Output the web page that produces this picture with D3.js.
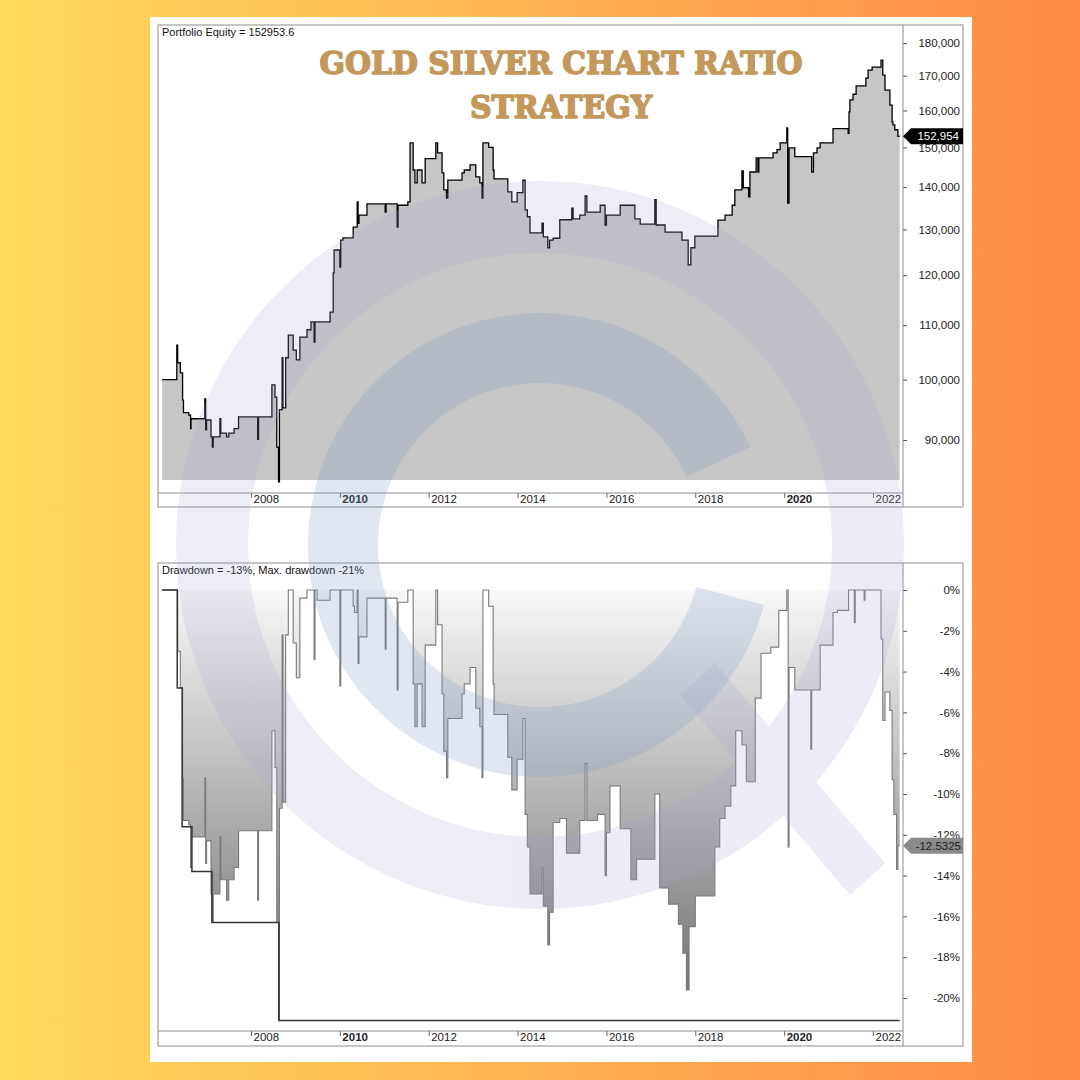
<!DOCTYPE html>
<html><head><meta charset="utf-8">
<script src="https://cdn.jsdelivr.net/npm/d3@7"></script>
<style>html,body{margin:0;padding:0;background:#fff;} svg{display:block;}</style>
</head><body>
<svg id="c" width="1080" height="1080"></svg>
<script>
// ---------------- DATA ----------------
const titleLines = ["GOLD SILVER CHART RATIO", "STRATEGY"];
const equityLabel = "Portfolio Equity = 152953.6";
const drawdownLabel = "Drawdown = -13%, Max. drawdown -21%";
const lastEquity = 152954;
const lastDrawdown = -12.5325;

const xTickYears = [2008, 2010, 2012, 2014, 2016, 2018, 2020, 2022];
const xBoldYears = [2010, 2020];
const equityTicks = [90000, 100000, 110000, 120000, 130000, 140000, 150000, 160000, 170000, 180000];
const drawdownTicks = [0, -2, -4, -6, -8, -10, -12, -14, -16, -18, -20];

const equityYears = [2006.00,2006.33,2006.35,2006.41,2006.46,2006.48,2006.60,2006.64,2006.65,2006.96,2006.98,2007.00,2007.10,2007.13,2007.15,2007.30,2007.32,2007.45,2007.50,2007.62,2007.72,2008.15,2008.17,2008.47,2008.54,2008.58,2008.62,2008.64,2008.70,2008.72,2008.78,2008.84,2008.95,2009.02,2009.10,2009.26,2009.35,2009.42,2009.44,2009.78,2009.85,2009.87,2010.00,2010.02,2010.07,2010.30,2010.39,2010.41,2010.43,2010.61,2011.02,2011.04,2011.29,2011.31,2011.53,2011.58,2011.65,2011.69,2011.74,2011.85,2011.92,2012.16,2012.20,2012.30,2012.34,2012.40,2012.43,2012.75,2012.80,2012.93,2013.06,2013.15,2013.20,2013.22,2013.35,2013.45,2013.47,2013.78,2013.87,2013.99,2014.12,2014.17,2014.22,2014.28,2014.55,2014.58,2014.68,2014.72,2014.80,2014.95,2015.22,2015.25,2015.40,2015.52,2015.56,2015.86,2015.97,2016.00,2016.31,2016.64,2016.76,2017.09,2017.12,2017.32,2017.70,2017.84,2017.90,2017.99,2018.51,2018.67,2018.83,2018.89,2019.05,2019.08,2019.20,2019.23,2019.37,2019.41,2019.43,2019.75,2019.84,2019.91,2020.06,2020.08,2020.11,2020.24,2020.62,2020.66,2020.74,2020.81,2021.10,2021.44,2021.46,2021.48,2021.55,2021.62,2021.84,2021.89,2021.98,2022.18,2022.22,2022.27,2022.38,2022.43,2022.45,2022.49,2022.56,2022.60];
const equityValues = [100000,106200,103000,101200,96500,94400,94000,91800,93400,96700,91600,93200,90500,88900,90500,93400,91100,90500,91100,91800,93700,90100,93700,99100,97000,88900,83650,94900,103900,95200,103900,108100,105300,103500,107700,109100,110600,106800,110600,112500,120500,125400,121700,127600,128100,130500,136400,131400,133300,135900,134000,135900,130500,135600,136400,151200,144200,141000,144200,141000,147100,151200,148600,143500,139300,137300,141700,143500,144200,145500,142500,141000,137300,151200,150000,144200,142000,138800,136400,138600,141700,134500,132900,129200,131400,128300,125900,127600,128000,132200,134900,132400,133300,137800,134000,135600,131000,133300,135600,132400,131200,136900,131000,129400,127600,122200,125900,128500,132100,133300,135600,139300,144000,139800,137600,143700,147300,143700,147300,148600,149400,151200,155200,136100,149900,147600,143700,148600,149900,151200,155000,153700,159600,163000,164600,167000,169300,171700,172600,174700,170200,165800,161500,156800,156000,154700,152954,152954];

const drawdownYears = [2006.00,2006.33,2006.35,2006.41,2006.46,2006.48,2006.60,2006.64,2006.65,2006.96,2006.98,2007.00,2007.10,2007.13,2007.15,2007.30,2007.32,2007.45,2007.50,2007.62,2007.72,2008.15,2008.17,2008.47,2008.54,2008.58,2008.62,2008.64,2008.70,2008.72,2008.78,2008.84,2008.95,2009.02,2009.10,2009.26,2009.42,2009.44,2009.49,2009.78,2010.00,2010.02,2010.30,2010.33,2010.39,2010.41,2010.43,2010.61,2011.02,2011.04,2011.29,2011.31,2011.53,2011.65,2011.69,2011.74,2011.85,2011.92,2012.16,2012.20,2012.30,2012.34,2012.40,2012.43,2012.75,2012.80,2012.93,2013.06,2013.15,2013.20,2013.22,2013.35,2013.45,2013.47,2013.78,2013.87,2013.99,2014.12,2014.17,2014.22,2014.28,2014.55,2014.58,2014.68,2014.72,2014.80,2014.95,2015.10,2015.40,2015.52,2015.56,2015.80,2015.97,2016.00,2016.08,2016.31,2016.55,2016.68,2017.09,2017.20,2017.40,2017.62,2017.72,2017.80,2017.86,2018.00,2018.44,2018.55,2018.67,2018.80,2018.91,2019.05,2019.15,2019.35,2019.48,2019.70,2019.88,2020.06,2020.09,2020.11,2020.24,2020.60,2020.62,2020.81,2021.10,2021.20,2021.45,2021.58,2021.60,2021.80,2021.82,2022.18,2022.22,2022.27,2022.38,2022.43,2022.47,2022.53,2022.56,2022.60];
const drawdownValues = [0,0,-3.0,-4.8,-9.2,-11.3,-11.5,-13.6,-12.1,-9.2,-13.4,-12.3,-14.9,-16.3,-14.9,-12.1,-14.2,-15.2,-14.2,-13.6,-11.8,-15.2,-11.8,-6.9,-8.7,-16.3,-21.1,-10.7,-2.2,-10.4,-2.2,0,-2.6,-4.3,-0.4,0,-3.4,0,-0.5,0,-4.7,0,-0.8,-1.1,0,-3.6,-2.3,-0.4,-2.9,-0.4,-4.9,-0.6,0,-4.6,-6.7,-4.6,-6.7,-2.7,0,-1.7,-5.1,-7.9,-9.2,-6.3,-5.1,-4.6,-3.8,-5.8,-6.7,-9.2,0,-0.8,-4.6,-6.1,-8.2,-9.8,-8.3,-6.3,-11.0,-12.6,-14.9,-13.6,-15.5,-17.4,-15.8,-11.4,-11.2,-12.9,-11.3,-8.5,-11.3,-11.0,-14.0,-11.9,-9.6,-11.7,-14.2,-13.2,-10.0,-14.6,-15.4,-16.4,-17.8,-19.6,-16.5,-15.0,-12.6,-11.2,-10.6,-9.6,-6.9,-7.6,-9.4,-5.3,-3.1,-2.8,-1.0,0,-12.6,-3.8,-4.9,-7.8,-4.9,-2.7,-1.1,-1.0,0,-1.6,0,-0.5,0,-2.4,-6.4,-5.0,-5.9,-9.3,-11.0,-13.7,-12.53,-12.53];

const maxDrawdownYears = [2006.00, 2006.34, 2006.45, 2006.67, 2007.12, 2008.63, 2022.60];
const maxDrawdownValues = [0, -4.8, -11.6, -13.8, -16.3, -21.1, -21.1];

// ---------------- DRAWING ----------------
const svg = d3.select("#c");
const defs = svg.append("defs");

const bg = defs.append("linearGradient").attr("id","bg").attr("x1","0").attr("x2","1").attr("y1","0").attr("y2","0");
bg.append("stop").attr("offset","0").attr("stop-color","#FFDA5D");
bg.append("stop").attr("offset","1").attr("stop-color","#FF8A45");
svg.append("rect").attr("width",1080).attr("height",1080).attr("fill","url(#bg)");
svg.append("rect").attr("x",150).attr("y",17).attr("width",822).attr("height",1045).attr("fill","#fff");

const font = "'Liberation Sans', Arial, sans-serif";
const x = d3.scaleLinear().domain([2008, 2022]).range([251, 873]);

// ---- top panel ----
const topP = {left:158, right:963, axisX:903, top:25, bottom:507, stripTop:493, floor:480};
const yEq = d3.scaleLog().domain([90000, 180000]).range([440, 43]);

const gTop = svg.append("g");
gTop.append("rect").attr("x",topP.left).attr("y",topP.top).attr("width",topP.right-topP.left).attr("height",topP.bottom-topP.top)
  .attr("fill","none").attr("stroke","#8c8c8c").attr("stroke-width",1);

const eqData = equityYears.map((d,i)=>({t:d, v:equityValues[i]}));
gTop.append("path").datum(eqData)
  .attr("d", d3.area().curve(d3.curveStepAfter).x(d=>x(d.t)).y0(topP.floor).y1(d=>yEq(d.v)))
  .attr("fill","#c6c6c6");
gTop.append("path").datum(eqData)
  .attr("d", d3.line().curve(d3.curveStepAfter).x(d=>x(d.t)).y(d=>yEq(d.v)))
  .attr("fill","none").attr("stroke","#000").attr("stroke-width",1.3);

const axEq = gTop.append("g").attr("transform",`translate(${topP.axisX},0)`)
  .call(d3.axisRight(yEq).tickValues(equityTicks).tickFormat(d3.format(",")).tickSize(4).tickSizeOuter(0));
axEq.select(".domain").remove();
axEq.selectAll(".tick line").attr("stroke","#555");
axEq.selectAll("text").attr("x",57).attr("text-anchor","end").attr("fill","#222")
  .style("font-family",font).style("font-size","11.5px");
gTop.append("line").attr("x1",topP.axisX).attr("x2",topP.axisX).attr("y1",topP.top).attr("y2",topP.bottom).attr("stroke","#8c8c8c");

function xStrip(g, y0, y1) {
  g.append("line").attr("x1",158).attr("x2",903).attr("y1",y0).attr("y2",y0).attr("stroke","#8c8c8c");
  const ax = g.append("g").attr("transform",`translate(0,${y0})`)
    .call(d3.axisBottom(x).tickValues(xTickYears).tickFormat(d3.format("d")).tickSize(5).tickSizeOuter(0));
  ax.select(".domain").remove();
  ax.selectAll(".tick line").attr("stroke","#666");
  ax.selectAll("text").attr("x",2).attr("y",2).attr("dy","0.71em").attr("text-anchor","start").attr("fill","#222")
    .style("font-family",font).style("font-size","11.5px")
    .style("font-weight", d => xBoldYears.includes(d) ? "bold" : "normal");
}
xStrip(gTop, topP.stripTop, topP.bottom);

gTop.append("text").attr("x",162).attr("y",36).text(equityLabel)
  .style("font-family",font).style("font-size","11px").attr("fill","#111");

const ly = yEq(lastEquity);
gTop.append("path").attr("d",`M${topP.axisX},${ly} L${topP.axisX+8},${ly-8} L${topP.right},${ly-8} L${topP.right},${ly+8} L${topP.axisX+8},${ly+8} Z`).attr("fill","#000");
gTop.append("text").attr("x",959).attr("y",ly+4).attr("text-anchor","end").text(d3.format(",")(lastEquity))
  .style("font-family",font).style("font-size","11.5px").attr("fill","#fff");

// ---- bottom panel ----
const botP = {left:158, right:963, axisX:903, top:563, bottom:1046, stripTop:1031};
const yDD = d3.scaleLinear().domain([0, -20]).range([590, 998]);

const gBot = svg.append("g");
gBot.append("rect").attr("x",botP.left).attr("y",botP.top).attr("width",botP.right-botP.left).attr("height",botP.bottom-botP.top)
  .attr("fill","none").attr("stroke","#8c8c8c").attr("stroke-width",1);

const ddg = defs.append("linearGradient").attr("id","ddg").attr("gradientUnits","userSpaceOnUse")
  .attr("x1",0).attr("x2",0).attr("y1",yDD(0)).attr("y2",yDD(-20));
ddg.append("stop").attr("offset","0").attr("stop-color","#f8f8f8");
ddg.append("stop").attr("offset","1").attr("stop-color","#727272");

const ddData = drawdownYears.map((d,i)=>({t:d, v:drawdownValues[i]}));
gBot.append("path").datum(ddData)
  .attr("d", d3.area().curve(d3.curveStepAfter).x(d=>x(d.t)).y0(yDD(0)).y1(d=>yDD(d.v)))
  .attr("fill","url(#ddg)");
gBot.append("path").datum(ddData)
  .attr("d", d3.line().curve(d3.curveStepAfter).x(d=>x(d.t)).y(d=>yDD(d.v)))
  .attr("fill","none").attr("stroke","#7a7a7a").attr("stroke-width",1.1);

const mddData = maxDrawdownYears.map((d,i)=>({t:d, v:maxDrawdownValues[i]}));
gBot.append("path").datum(mddData)
  .attr("d", d3.line().curve(d3.curveStepAfter).x(d=>x(d.t)).y(d=>yDD(d.v)))
  .attr("fill","none").attr("stroke","#333").attr("stroke-width",1.5);

const axDD = gBot.append("g").attr("transform",`translate(${botP.axisX},0)`)
  .call(d3.axisRight(yDD).tickValues(drawdownTicks).tickFormat(d=>d+"%").tickSize(4).tickSizeOuter(0));
axDD.select(".domain").remove();
axDD.selectAll(".tick line").attr("stroke","#555");
axDD.selectAll("text").attr("x",57).attr("text-anchor","end").attr("fill","#222")
  .style("font-family",font).style("font-size","11.5px");
gBot.append("line").attr("x1",botP.axisX).attr("x2",botP.axisX).attr("y1",botP.top).attr("y2",botP.bottom).attr("stroke","#8c8c8c");

xStrip(gBot, botP.stripTop, botP.bottom);

gBot.append("text").attr("x",162).attr("y",574).text(drawdownLabel)
  .style("font-family",font).style("font-size","11px").attr("fill","#111");

const dyy = yDD(lastDrawdown);
gBot.append("path").attr("d",`M${botP.axisX},${dyy} L${botP.axisX+8},${dyy-8} L${botP.right},${dyy-8} L${botP.right},${dyy+8} L${botP.axisX+8},${dyy+8} Z`).attr("fill","#8a8a8a");
gBot.append("text").attr("x",961).attr("y",dyy+4).attr("text-anchor","end").text(String(lastDrawdown))
  .style("font-family",font).style("font-size","11.5px").attr("fill","#222");

// ---- title ----
const titleG = svg.append("g");
const titleY = [74, 118];
const titleW = [483, 182];
titleLines.forEach((t,i)=>{
  titleG.append("text").attr("x",561).attr("y",titleY[i]).attr("text-anchor","middle")
    .attr("textLength",titleW[i]).attr("lengthAdjust","spacingAndGlyphs")
    .text(t).style("font-family","'DejaVu Serif', serif").style("font-weight","bold").style("font-size","31px")
    .attr("fill","#C4985B").attr("stroke","#C4985B").attr("stroke-width",1.6).attr("stroke-linejoin","round");
});

// ---- watermark ----
const wm = svg.append("g").attr("transform","translate(540,545)").style("pointer-events","none");
const outer = wm.append("g").attr("opacity",0.2);
outer.append("path").attr("d", d3.arc().innerRadius(292).outerRadius(364).startAngle(0).endAngle(2*Math.PI)()).attr("fill","#a4a4d4");
outer.append("path").attr("d","M140,150 L175,118 L345,318 L310,350 Z").attr("fill","#a4a4d4");
const inner = wm.append("g").attr("opacity",0.24);
inner.append("path").attr("d", d3.arc().innerRadius(162).outerRadius(232)
  .startAngle(105*Math.PI/180).endAngle(425*Math.PI/180)()).attr("fill","#7f9cc0");
</script>
</body></html>
